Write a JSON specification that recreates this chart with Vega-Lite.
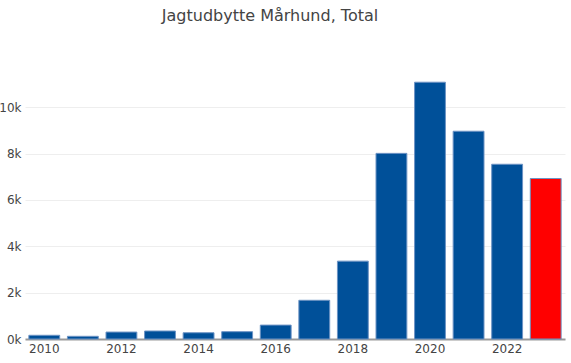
{
  "$schema": "https://vega.github.io/schema/vega-lite/v6.json",
  "autosize": "none",
  "width": 540,
  "height": 270,
  "padding": {"left": 25, "top": 69, "right": 6, "bottom": 24},
  "background": "white",
  "title": {
    "text": "Jagtudbytte Mårhund, Total",
    "font": "Verdana, DejaVu Sans",
    "fontSize": 16,
    "fontWeight": "normal",
    "color": "#444",
    "anchor": "middle",
    "frame": "group",
    "dx": -25,
    "offset": 45
  },
  "data": {
    "values": [
      {"year": 2010, "value": 160},
      {"year": 2011, "value": 116},
      {"year": 2012, "value": 300},
      {"year": 2013, "value": 345},
      {"year": 2014, "value": 270},
      {"year": 2015, "value": 315},
      {"year": 2016, "value": 600},
      {"year": 2017, "value": 1670},
      {"year": 2018, "value": 3360},
      {"year": 2019, "value": 8010},
      {"year": 2020, "value": 11080},
      {"year": 2021, "value": 8965},
      {"year": 2022, "value": 7540},
      {"year": 2023, "value": 6925}
    ]
  },
  "mark": {"type": "bar", "stroke": "#6d93c4", "strokeWidth": 1},
  "encoding": {
    "x": {
      "field": "year",
      "type": "ordinal",
      "scale": {"paddingInner": 0.2, "paddingOuter": 0.1},
      "axis": {
        "title": null,
        "labelAngle": 0,
        "values": [2010, 2012, 2014, 2016, 2018, 2020, 2022],
        "ticks": false,
        "labelPadding": 4,
        "labelFont": "Verdana, DejaVu Sans",
        "labelFontSize": 12,
        "labelColor": "#444",
        "domainColor": "#999",
        "domainWidth": 2,
        "grid": false
      }
    },
    "y": {
      "field": "value",
      "type": "quantitative",
      "scale": {"domain": [0, 11650], "nice": false},
      "axis": {
        "title": null,
        "values": [0, 2000, 4000, 6000, 8000, 10000],
        "format": "~s",
        "domain": false,
        "ticks": false,
        "labelPadding": 4,
        "labelFont": "Verdana, DejaVu Sans",
        "labelFontSize": 12,
        "labelColor": "#444",
        "gridColor": "#eeeeee",
        "gridWidth": 1
      }
    },
    "color": {
      "condition": {"test": "datum.year === 2023", "value": "#ff0000"},
      "value": "#005099"
    }
  },
  "config": {"view": {"stroke": null}}
}
